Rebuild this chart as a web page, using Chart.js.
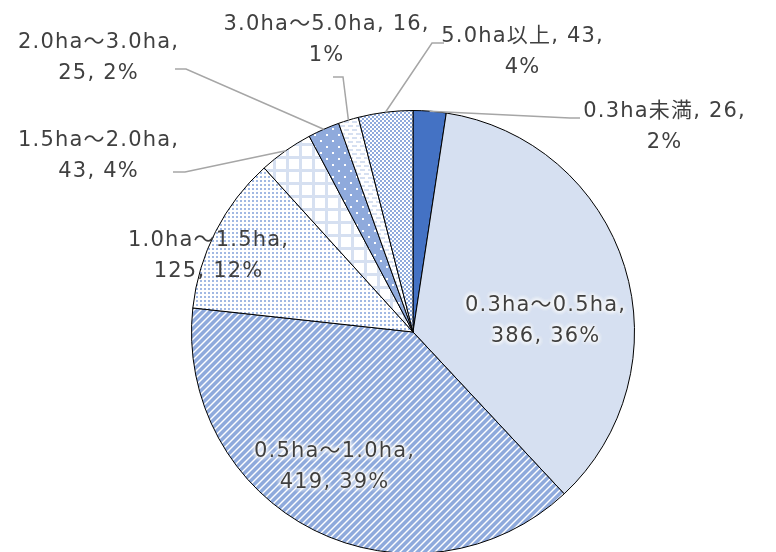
<!DOCTYPE html>
<html>
<head>
<meta charset="utf-8">
<script src="https://cdn.jsdelivr.net/npm/chart.js@4.4.1/dist/chart.umd.min.js"></script>
<style>
  html, body { margin: 0; padding: 0; background: #fff; overflow: hidden; }
  #wrap { width: 776px; height: 556px; position: relative; }
</style>
</head>
<body>
<div id="wrap"><canvas id="farm-size"></canvas></div>
<script>
// 経営面積別の農家数
var categories = ["0.3ha未満", "0.3ha～0.5ha", "0.5ha～1.0ha", "1.0ha～1.5ha",
                  "1.5ha～2.0ha", "2.0ha～3.0ha", "3.0ha～5.0ha", "5.0ha以上"];
var counts = [26, 386, 419, 125, 43, 25, 16, 43];
var percents = [2, 36, 39, 12, 4, 2, 1, 4];

// fill patterns, one per slice
function makePattern(size, draw) {
  var c = document.createElement('canvas');
  c.width = size; c.height = size;
  var g = c.getContext('2d');
  draw(g, size);
  return g.createPattern(c, 'repeat');
}

var patterns = [
  '#4472C4',
  '#D6E0F1',
  makePattern(7, function (g, s) {          // wide upward diagonal
    g.fillStyle = '#8FAADC'; g.fillRect(0, 0, s, s);
    g.strokeStyle = '#ffffff'; g.lineWidth = 1.4;
    for (var k = -1; k <= 1; k++) {
      g.beginPath(); g.moveTo(k * s - 1, s + 1); g.lineTo(k * s + s + 1, -1); g.stroke();
    }
  }),
  makePattern(4, function (g, s) {          // small dots
    g.fillStyle = '#ffffff'; g.fillRect(0, 0, s, s);
    g.fillStyle = '#A2B9E3'; g.fillRect(0, 0, 2, 2);
  }),
  makePattern(13, function (g, s) {         // large grid
    g.fillStyle = '#ffffff'; g.fillRect(0, 0, s, s);
    g.fillStyle = '#D6E0F1';
    g.fillRect(0, 0, s, 3); g.fillRect(0, 0, 3, s);
  }),
  makePattern(12, function (g, s) {         // large confetti
    g.fillStyle = '#8FAADC'; g.fillRect(0, 0, s, s);
    g.fillStyle = '#ffffff';
    g.fillRect(2, 2, 2, 2); g.fillRect(8, 8, 2, 2);
  }),
  makePattern(8, function (g, s) {          // dashed horizontal
    g.fillStyle = '#ffffff'; g.fillRect(0, 0, s, s);
    g.fillStyle = '#D6E0F1';
    g.fillRect(0, 1, 5, 2); g.fillRect(4, 5, 5, 2); g.fillRect(0, 5, 1, 2);
  }),
  makePattern(4, function (g, s) {          // small checker
    g.fillStyle = '#ffffff'; g.fillRect(0, 0, s, s);
    g.fillStyle = '#8FAADC';
    g.fillRect(0, 0, 2, 2); g.fillRect(2, 2, 2, 2);
  })
];

// where each label goes; leaders start at the slice's outer edge
var labelLayout = [
  { x: 664, y: 112, knee: [570, 118], end: [580, 118] },
  { x: 545, y: 306, inside: true, glow: true },
  { x: 334, y: 452, inside: true, glow: true },
  { x: 208, y: 241, inside: true },
  { x: 98, y: 141, knee: [185, 172], end: [173, 172] },
  { x: 98, y: 43, knee: [186, 69], end: [175, 69] },
  { x: 326, y: 25, knee: [343, 77], end: [333, 77] },
  { x: 522, y: 37, knee: [432, 43], end: [444, 43] }
];
// how the text breaks per label
var labelLines = [
  function (i) { return [categories[i] + ", " + counts[i] + ",", percents[i] + "%"]; },
  function (i) { return [categories[i] + ",", counts[i] + ", " + percents[i] + "%"]; }
];
var lineBreak = [0, 1, 1, 1, 1, 1, 0, 0];

var pieLabels = {
  id: 'pieLabels',
  afterDatasetsDraw: function (chart) {
    var ctx = chart.ctx;
    var arcs = chart.getDatasetMeta(0).data;
    ctx.save();
    ctx.font = '21px "DejaVu Sans", "Noto Sans CJK JP", sans-serif';
    ctx.letterSpacing = '1.2px';
    ctx.textAlign = 'center';
    ctx.textBaseline = 'middle';
    arcs.forEach(function (arc, i) {
      var L = labelLayout[i];
      var p = arc.getProps(['x', 'y', 'startAngle', 'endAngle', 'outerRadius'], true);
      if (L.knee) {
        var mid = (p.startAngle + p.endAngle) / 2;
        var sx = p.x + Math.cos(mid) * p.outerRadius;
        var sy = p.y + Math.sin(mid) * p.outerRadius;
        ctx.strokeStyle = '#A6A6A6';
        ctx.lineWidth = 1.5;
        ctx.beginPath();
        ctx.moveTo(sx, sy);
        ctx.lineTo(L.knee[0], L.knee[1]);
        ctx.lineTo(L.end[0], L.end[1]);
        ctx.stroke();
      }
      var lines = labelLines[lineBreak[i]](i);
      lines.forEach(function (t, k) {
        var ty = L.y + k * 31;
        var tx = L.x + 0.6; // offset the trailing letter spacing
        if (L.glow) {
          ctx.save();
          ctx.shadowColor = '#ffffff';
          ctx.shadowBlur = 5;
          ctx.fillStyle = '#ffffff';
          for (var n = 0; n < 4; n++) ctx.fillText(t, tx, ty);
          ctx.restore();
        }
        ctx.fillStyle = '#404040';
        ctx.fillText(t, tx, ty);
      });
    });
    ctx.restore();
  }
};

new Chart(document.getElementById("farm-size"), {
  type: 'pie',
  data: {
    labels: categories,
    datasets: [{
      data: counts,
      backgroundColor: patterns,
      borderColor: '#000000',
      borderWidth: 1
    }]
  },
  options: {
    responsive: true,
    maintainAspectRatio: false,
    animation: false,
    layout: { padding: { left: 191, right: 141, top: 110, bottom: 2 } },
    plugins: {
      legend: { display: false },
      tooltip: { enabled: false }
    }
  },
  plugins: [pieLabels]
});
</script>
</body>
</html>
